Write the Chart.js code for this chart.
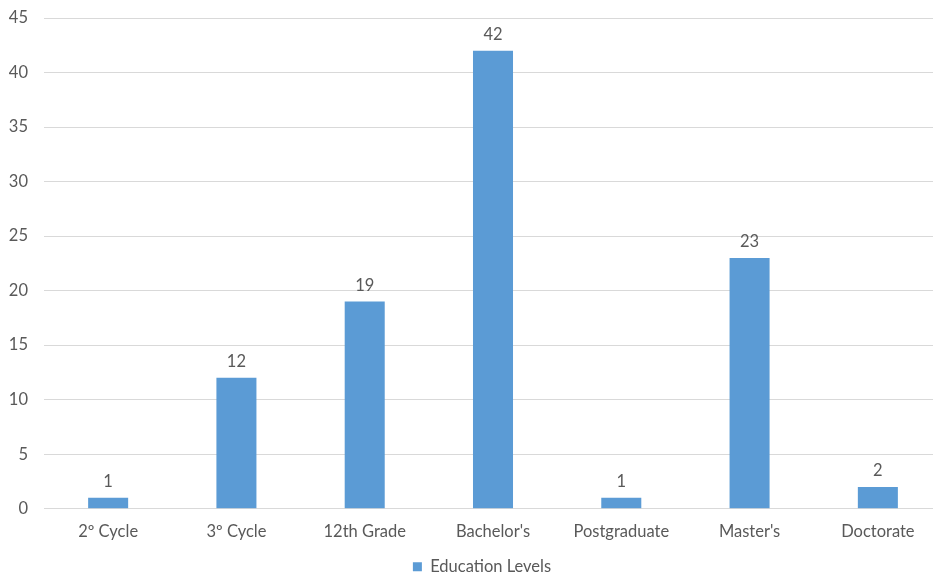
<!DOCTYPE html>
<html>
<head>
<meta charset="utf-8">
<script src="https://cdn.jsdelivr.net/npm/chart.js@4/dist/chart.umd.min.js"></script>
<style>
  html, body { margin: 0; padding: 0; background: #fff; overflow: hidden; }
  #wrap { position: relative; width: 964px; height: 585px; }
</style>
</head>
<body>
<div id="wrap"><canvas id="chart"></canvas></div>
<script>
const categories = ["2º Cycle", "3º Cycle", "12th Grade", "Bachelor's", "Postgraduate", "Master's", "Doctorate"];
const counts = [1, 12, 19, 42, 1, 23, 2];
const seriesName = "Education Levels";
const yTicks = [0, 5, 10, 15, 20, 25, 30, 35, 40, 45];

const FONT = "Lato, 'Open Sans', sans-serif";
const TEXT = "#595959";
const SIZE = 16.5;

// Value labels above each bar
const valueLabels = {
  id: "valueLabels",
  afterDatasetsDraw(chart) {
    const ctx = chart.ctx;
    const meta = chart.getDatasetMeta(0);
    ctx.save();
    ctx.font = SIZE + "px " + FONT;
    ctx.fillStyle = TEXT;
    ctx.textAlign = "center";
    ctx.textBaseline = "bottom";
    meta.data.forEach((bar, i) => {
      ctx.fillText(String(chart.data.datasets[0].data[i]), bar.x, bar.y - 8);
    });
    ctx.restore();
  }
};

// Nudge the legend so it is centred on the full chart width
const legendShift = {
  id: "legendShift",
  afterLayout(chart) {
    if (chart.legend) {
      chart.legend.left += 11;
      chart.legend.right += 11;
    }
  }
};

new Chart(document.getElementById("chart"), {
  type: "bar",
  data: {
    labels: categories,
    datasets: [{
      label: seriesName,
      data: counts,
      backgroundColor: "#5B9BD5",
      borderWidth: 0,
      categoryPercentage: 1,
      barPercentage: 0.312
    }]
  },
  options: {
    responsive: true,
    maintainAspectRatio: false,
    animation: false,
    layout: { padding: { top: 18, left: 0, right: 22, bottom: 0 } },
    plugins: {
      legend: {
        position: "bottom",
        labels: {
          font: { family: FONT, size: SIZE },
          color: TEXT,
          boxWidth: 9,
          boxHeight: 9,
          padding: 12
        }
      },
      tooltip: { enabled: false }
    },
    scales: {
      x: {
        grid: { display: false },
        border: { display: false },
        ticks: { font: { family: FONT, size: SIZE }, color: TEXT, padding: 5, maxRotation: 0 }
      },
      y: {
        min: 0,
        max: 45,
        afterBuildTicks(scale) { scale.ticks = yTicks.map(v => ({ value: v })); },
        afterFit(scale) { scale.width = 44; },
        grid: { color: "#d9d9d9", lineWidth: 1, drawTicks: true, tickLength: 16, tickColor: "rgba(0,0,0,0)" },
        border: { display: false },
        ticks: { font: { family: FONT, size: SIZE }, color: TEXT, padding: 0 }
      }
    }
  },
  plugins: [valueLabels, legendShift]
});
</script>
</body>
</html>
